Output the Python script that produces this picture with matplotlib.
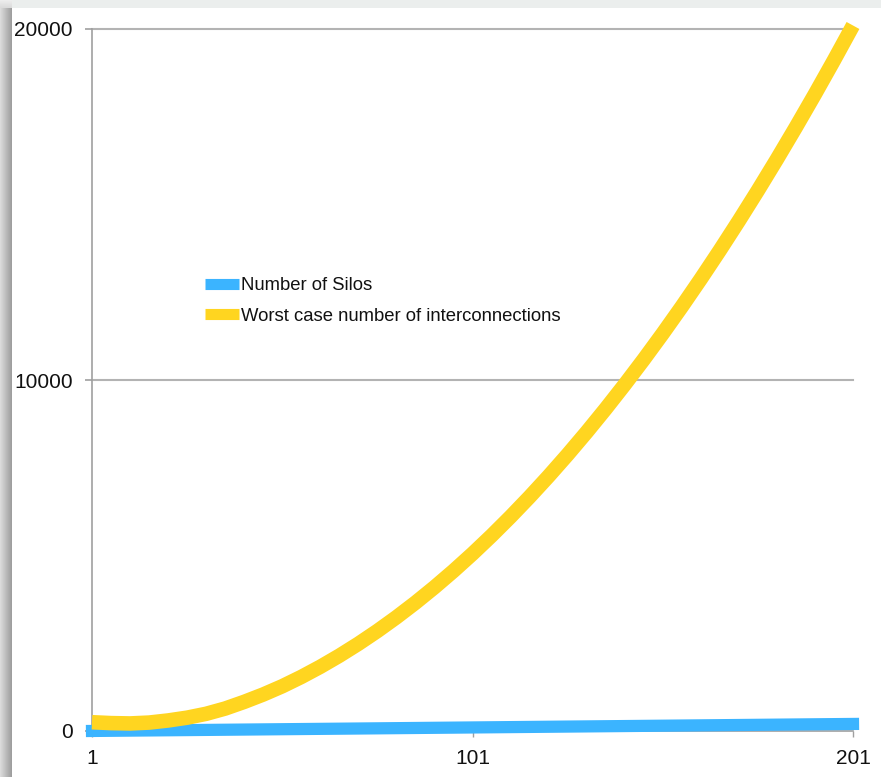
import numpy as np
import matplotlib
matplotlib.use("Agg")
import matplotlib.pyplot as plt
from matplotlib import font_manager

# Series data
silo_counts = [1, 6, 11, 16, 21, 26, 31, 36, 41, 46, 51, 56, 61, 66, 71, 76, 81,
               86, 91, 96, 101, 106, 111, 116, 121, 126, 131, 136, 141, 146,
               151, 156, 161, 166, 171, 176, 181, 186, 191, 196, 201]
number_of_silos = [1, 6, 11, 16, 21, 26, 31, 36, 41, 46, 51, 56, 61, 66, 71, 76, 81,
                   86, 91, 96, 101, 106, 111, 116, 121, 126, 131, 136, 141, 146,
                   151, 156, 161, 166, 171, 176, 181, 186, 191, 196, 201]
worst_case_links = [250, 225, 215, 240, 300, 380, 490, 640, 830, 1040, 1275,
                    1540, 1830, 2145, 2485, 2850, 3240, 3655, 4095, 4560, 5050,
                    5565, 6105, 6670, 7260, 7875, 8515, 9180, 9870, 10585,
                    11325, 12090, 12880, 13695, 14535, 15400, 16290, 17205,
                    18145, 19110, 20100]

x_ticks = [1, 101, 201]
y_ticks = [0, 10000, 20000]
series_names = ["Number of Silos", "Worst case number of interconnections"]
series_colors = ["#3BB4FF", "#FFD520"]

names = {f.name for f in font_manager.fontManager.ttflist}
family = ["Liberation Sans Narrow", "Liberation Sans", "DejaVu Sans"]
family = [f for f in family if f in names] or ["DejaVu Sans"]
plt.rcParams["font.family"] = family

W, H = 881, 777
fig = plt.figure(figsize=(W / 100, H / 100), dpi=100)
fig.patch.set_facecolor("white")

# Card shadow along the left and top edges
bg = fig.add_axes([0, 0, 1, 1], zorder=-10)
bg.set_xlim(0, W)
bg.set_ylim(H, 0)
bg.axis("off")
img = np.ones((H, W, 3))
top = 8
left = 12
img[:top, :, :] = np.array([0.925, 0.935, 0.93])
ramp = np.linspace(0.86, 0.62, left)
for i in range(left):
    img[top:, i, :] = ramp[i]
fade = np.linspace(0.93, 0.86, top)
for j in range(top):
    img[j, :left, :] = fade[j]
bg.imshow(img, extent=(0, W, H, 0), aspect="auto", interpolation="bilinear")

x0, x1 = 92, 853
y0, y1 = 731, 29
ax = fig.add_axes([x0 / W, 1 - y0 / H, (x1 - x0) / W, (y0 - y1) / H])
ax.set_facecolor("none")

ax.set_xlim(1, 201)
ax.set_ylim(0, 20000)

for v in y_ticks[1:]:
    ax.axhline(v, color="#b3b3b3", lw=1.5, zorder=1, clip_on=False)

ax.plot(silo_counts, number_of_silos, color=series_colors[0], lw=8.8,
        solid_capstyle="projecting", label=series_names[0], zorder=3, clip_on=False)
ax.plot(silo_counts, worst_case_links, color=series_colors[1], lw=10.5,
        solid_capstyle="butt", solid_joinstyle="round", label=series_names[1],
        zorder=4, clip_on=False)

for side in ["top", "right"]:
    ax.spines[side].set_visible(False)
ax.spines["left"].set_color("#a0a0a0")
ax.spines["left"].set_linewidth(1.2)
ax.spines["bottom"].set_color("#a0a0a0")
ax.spines["bottom"].set_linewidth(1.2)

ax.set_xticks(x_ticks)
ax.set_xticklabels([str(v) for v in x_ticks])
ax.set_yticks(y_ticks)
ax.set_yticklabels([str(v) for v in y_ticks])
ax.tick_params(axis="y", length=5, width=1.2, color="#a0a0a0", pad=9,
               labelsize=15, labelcolor="#111111")
ax.tick_params(axis="x", length=4, width=1, color="#a0a0a0", pad=9,
               labelsize=15, labelcolor="#111111")

leg = ax.legend(loc="upper left", bbox_to_anchor=(205 / W, 1 - 277 / H),
                bbox_transform=fig.transFigure, frameon=False, fontsize=13.3,
                handlelength=1.85, handletextpad=0.1, labelspacing=0.75,
                borderpad=0, borderaxespad=0)
for line in leg.get_lines():
    line.set_linewidth(8)
    line.set_solid_capstyle("butt")
for t in leg.get_texts():
    t.set_color("#111111")

fig.savefig("out.png", dpi=100)
